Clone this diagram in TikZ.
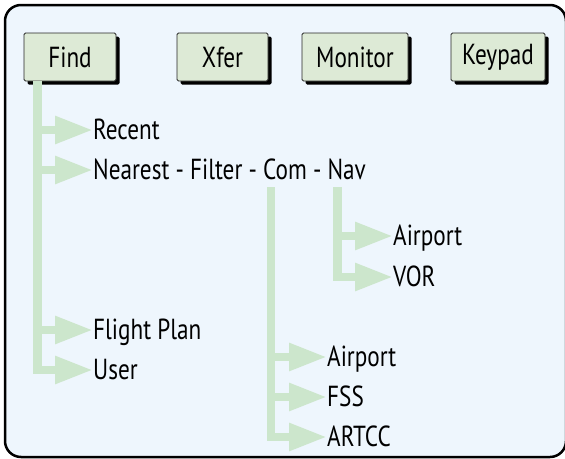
\documentclass[tikz,border=0pt]{standalone}
\usepackage{fontspec}
\setmainfont{PT Sans}[FakeStretch=0.8]
\usetikzlibrary{arrows.meta,shadows}
\definecolor{bgblue}{HTML}{EEF6FD}
\definecolor{btnfill}{HTML}{DDEAD6}
\definecolor{treegreen}{HTML}{CCE6CC}
\begin{document}
\begin{tikzpicture}[x=1pt,y=-1pt,
  btn/.style={draw=black!85, line width=0.8pt, fill=btnfill, rounded corners=1.5pt,
    minimum height=48pt, inner sep=0pt, font=\fontsize{29}{32}\selectfont,
    drop shadow={shadow xshift=3.5pt, shadow yshift=-3.5pt, fill=black, opacity=1}},
  lbl/.style={anchor=west, inner sep=0pt, text height=19pt, text depth=0pt,
    font=\fontsize{29}{32}\selectfont},
  branch/.style={draw=treegreen, line width=8.5pt, line join=miter,
    -{Triangle[length=38pt,width=26pt]}}]
\useasboundingbox (0,0) rectangle (565,458);
\clip (0,0) rectangle (565,458);
\draw[line width=2.5pt, fill=bgblue, rounded corners=16pt] (5,5) rectangle (566,457);
% buttons
\node[btn, minimum width=92pt] (find) at (70,57) {Find};
\node[btn, minimum width=91pt] (xfer) at (222.5,57) {Xfer};
\node[btn, minimum width=106pt] (monitor) at (355,57) {Monitor};
\node[btn, minimum width=94pt] (keypad) at (498,57) {Keypad};
% labels
\node[lbl] (recent) at (93,130) {Recent};
\node[lbl] (nearest) at (93,170) {Nearest - Filter - Com - Nav};
\node[lbl] (airportA) at (393,236) {Airport};
\node[lbl] (vor) at (393,277) {VOR};
\node[lbl] (flight) at (93,330) {Flight Plan};
\node[lbl] (user) at (93,370) {User};
\node[lbl] (airportB) at (327,357) {Airport};
\node[lbl] (fss) at (327,397) {FSS};
\node[lbl] (artcc) at (327,437) {ARTCC};
% trunks
\coordinate (t1) at (37.5,81);
\coordinate (t2) at (271,187);
\coordinate (t3) at (337.5,187);
\draw[branch] (t1) |- (user.west);
\draw[branch] (t1 |- recent.west) -- (recent.west);
\draw[branch] (t1 |- nearest.west) -- (nearest.west);
\draw[branch] (t1 |- flight.west) -- (flight.west);
\draw[branch] (t2) |- (artcc.west);
\draw[branch] (t2 |- airportB.west) -- (airportB.west);
\draw[branch] (t2 |- fss.west) -- (fss.west);
\draw[branch] (t3) |- (vor.west);
\draw[branch] (t3 |- airportA.west) -- (airportA.west);
\end{tikzpicture}
\end{document}
